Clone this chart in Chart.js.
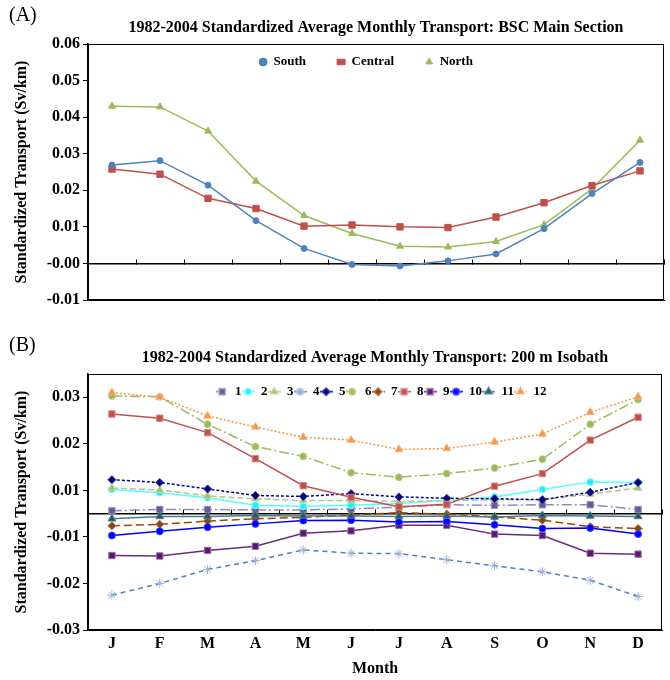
<!DOCTYPE html>
<html>
<head>
<meta charset="utf-8">
<script src="https://cdn.jsdelivr.net/npm/chart.js@4.4.1/dist/chart.umd.min.js"></script>
<style>
html, body { margin: 0; padding: 0; background: #fff; }
#page { position: relative; width: 670px; height: 680px; overflow: hidden; }
.panel { position: absolute; left: 0; width: 670px; }
#boxA { top: 0; height: 320px; }
#boxB { top: 320px; height: 360px; }
.tag { position: absolute; left: 9px; font: 20px "Liberation Serif", serif; color: #000; }
</style>
</head>
<body>
<div id="page">
  <div class="panel" id="boxA"><canvas id="chartA"></canvas></div>
  <div class="panel" id="boxB"><canvas id="chartB"></canvas></div>
  <div class="tag" style="top:3px">(A)</div>
  <div class="tag" style="top:333px">(B)</div>
</div>
<script>
// mois
const months = ['J', 'F', 'M', 'A', 'M', 'J', 'J', 'A', 'S', 'O', 'N', 'D'];

// Panneau A : section principale
const south   = [0.0269, 0.0281, 0.0214, 0.0117, 0.0041, -0.0003, -0.0007, 0.0007, 0.0026, 0.0095, 0.0191, 0.0276];
const central = [0.0258, 0.0244, 0.0178, 0.0150, 0.0102, 0.0105, 0.0100, 0.0098, 0.0127, 0.0166, 0.0213, 0.0253];
const north   = [0.0430, 0.0428, 0.0362, 0.0225, 0.0131, 0.0082, 0.0047, 0.0045, 0.0060, 0.0106, 0.0204, 0.0337];

// Panneau B : isobathe 200 m, segments 1..12
const seg1  = [0.0006, 0.0009, 0.0009, 0.0008, 0.0008, 0.0010, 0.0014, 0.0019, 0.0018, 0.0019, 0.0019, 0.0009];
const seg2  = [0.0052, 0.0045, 0.0034, 0.0018, 0.0016, 0.0018, 0.0022, 0.0029, 0.0036, 0.0052, 0.0068, 0.0067];
const seg3  = [0.0055, 0.0051, 0.0038, 0.0032, 0.0028, 0.0028, 0.0026, 0.0028, 0.0030, 0.0030, 0.0042, 0.0055];
const seg4  = [-0.0175, -0.0150, -0.0120, -0.0101, -0.0078, -0.0085, -0.0086, -0.0099, -0.0112, -0.0125, -0.0143, -0.0178];
const seg5  = [0.0073, 0.0067, 0.0053, 0.0039, 0.0037, 0.0043, 0.0036, 0.0033, 0.0032, 0.0030, 0.0046, 0.0067];
const seg6  = [0.0253, 0.0251, 0.0192, 0.0144, 0.0123, 0.0088, 0.0078, 0.0086, 0.0098, 0.0117, 0.0192, 0.0245];
const seg7  = [-0.0026, -0.0023, -0.0016, -0.0011, -0.0008, -0.0003, 0.0002, -0.0001, -0.0007, -0.0014, -0.0028, -0.0032];
const seg8  = [0.0214, 0.0205, 0.0174, 0.0118, 0.0060, 0.0035, 0.0015, 0.0020, 0.0059, 0.0086, 0.0158, 0.0207];
const seg9  = [-0.0090, -0.0091, -0.0079, -0.0070, -0.0042, -0.0037, -0.0025, -0.0025, -0.0044, -0.0047, -0.0085, -0.0087];
const seg10 = [-0.0047, -0.0038, -0.0029, -0.0022, -0.0015, -0.0014, -0.0018, -0.0017, -0.0024, -0.0032, -0.0031, -0.0044];
const seg11 = [-0.0011, -0.0006, -0.0006, -0.0004, -0.0005, -0.0005, -0.0006, -0.0005, -0.0007, -0.0004, -0.0005, -0.0006];
const seg12 = [0.0260, 0.0250, 0.0210, 0.0186, 0.0164, 0.0158, 0.0138, 0.0140, 0.0154, 0.0171, 0.0218, 0.0251];

// graduations de l'axe B (valeurs réelles et libellés arrondis comme dans Excel)
const yTicksB  = [-0.025, -0.015, -0.005, 0.005, 0.015, 0.025];
const yLabelsB = ['-0.03', '-0.02', '-0.01', '0.01', '0.02', '0.03'];

const serif = '"Liberation Serif", "Times New Roman", serif';
const boldFont = size => ({ family: serif, size: size, weight: 'bold' });

// petite icône de légende : trait + marqueur
function legendIcon(line, dash, style, fill, stroke, r) {
    const c = document.createElement('canvas');
    c.width = 13; c.height = 11;
    const g = c.getContext('2d');
    g.strokeStyle = line;
    g.lineWidth = 1.5;
    g.setLineDash(dash);
    g.beginPath(); g.moveTo(0, 5.5); g.lineTo(13, 5.5); g.stroke();
    g.setLineDash([]);
    g.fillStyle = fill;
    g.strokeStyle = stroke;
    Chart.helpers.drawPoint(g, { pointStyle: style, radius: r, borderWidth: 1, rotation: 0 }, 6.5, 5.5);
    return c;
}

// cadre du graphique + légende placée dans la zone de tracé
const framePlugin = {
    id: 'frame',
    beforeDraw(chart, args, opts) {
        const L = chart.legend;
        const a = chart.chartArea;
        if (L) {
            L.top = a.top + opts.legendDy;
            L.bottom = L.top + 90;
            L.left = a.left + opts.legendDx;
            L.right = a.right + opts.legendDx;
        }
    },
    beforeDatasetsDraw(chart) {
        const { ctx, chartArea: a } = chart;
        ctx.save();
        ctx.strokeStyle = '#000';
        ctx.lineWidth = 1;
        ctx.strokeRect(a.left + 0.5, a.top + 0.5, a.width - 1, a.height - 1);
        ctx.restore();
    }
};

function zeroAxis() {
    return {
        type: 'category',
        axis: 'x',
        labels: months,
        position: { y: 0 },
        offset: true,
        ticks: { display: false },
        grid: { display: true, drawOnChartArea: false, drawTicks: true, tickLength: -5, offset: true, color: '#000', lineWidth: 1 },
        border: { display: true, color: '#000', width: 1.5 }
    };
}

function yAxis(extra) {
    return Object.assign({
        grid: { display: true, drawOnChartArea: false, drawTicks: true, tickLength: 5, color: '#000', lineWidth: 1 },
        border: { display: true, color: '#000', width: 1.5 },
        title: { display: true, text: 'Standardized Transport (Sv/km)', color: '#000', font: boldFont(16), padding: { top: 12, bottom: 0 } },
        afterFit: s => { s.width = 88; }
    }, extra);
}

function series(label, data, line, dash, style, fill, stroke, r) {
    return {
        label: label, data: data, xAxisID: 'x', yAxisID: 'y',
        borderColor: line, borderWidth: 1.5, borderDash: dash,
        pointStyle: style, pointRadius: r, pointBackgroundColor: fill,
        pointBorderColor: stroke, pointBorderWidth: 1, tension: 0, fill: false
    };
}

// ---- Graphique A ----
new Chart(document.getElementById('chartA'), {
    type: 'line',
    data: {
        labels: months,
        datasets: [
            series('South', south, '#4F81BD', [], 'circle', '#4F81BD', '#4F81BD', 3),
            series('Central', central, '#C0504D', [], 'rect', '#C0504D', '#C0504D', 4.5),
            series('North', north, '#9BBB59', [], 'triangle', '#9BBB59', '#9BBB59', 4)
        ]
    },
    options: {
        responsive: true,
        maintainAspectRatio: false,
        animation: false,
        devicePixelRatio: 1,
        layout: { padding: { left: 0, right: 6, top: 0, bottom: 20 } },
        scales: {
            x: {
                type: 'category', offset: true,
                ticks: { display: false },
                grid: { display: false, drawTicks: false },
                border: { display: true, color: '#000', width: 1 },
                afterFit: s => { s.height = 0; }
            },
            x0: zeroAxis(),
            y: yAxis({
                min: -0.01, max: 0.06,
                ticks: { stepSize: 0.01, color: '#000', font: boldFont(16), padding: 3, callback: v => v.toFixed(2) }
            })
        },
        plugins: {
            title: {
                display: true, fullSize: false,
                text: '1982-2004 Standardized Average Monthly Transport: BSC Main Section',
                color: '#000', font: boldFont(16), padding: { top: 18.4, bottom: 5.4 }
            },
            legend: {
                display: true, position: 'top', fullSize: false, maxHeight: 1,
                labels: { usePointStyle: true, pointStyleWidth: 8, boxHeight: 5.5, padding: 31, color: '#000', font: boldFont(13) }
            },
            tooltip: { enabled: false },
            frame: { legendDy: -19.5, legendDx: -10 }
        }
    },
    plugins: [framePlugin]
});

// ---- Graphique B ----
const styleB = [
    ['1',  seg1,  '#8E8AB8', [10, 3, 2, 3], 'rect',     '#675A94', '#9C93C0', 4.5],
    ['2',  seg2,  '#55FFFF', [],            'circle',   '#22EEFF', '#88FFFF', 3.5],
    ['3',  seg3,  '#B0C98A', [6, 3],        'triangle', '#A2BF6A', '#C4D8A0', 4.5],
    ['4',  seg4,  '#4F81BD', [5, 4],        'star',     '#95B3D7', '#95B3D7', 4.5],
    ['5',  seg5,  '#000099', [3, 2],        'rectRot',  '#000080', '#3030A0', 4],
    ['6',  seg6,  '#9BBB59', [10, 3, 2, 3], 'circle',   '#9BBB59', '#B8D08A', 3.5],
    ['7',  seg7,  '#984807', [8, 4],        'rectRot',  '#8B4513', '#A86A3A', 4],
    ['8',  seg8,  '#C0504D', [],            'rect',     '#C0504D', '#D88A88', 4.5],
    ['9',  seg9,  '#6A2C7A', [],            'rect',     '#5C1870', '#9A70A8', 4.5],
    ['10', seg10, '#0000FF', [],            'circle',   '#0000FF', '#4040FF', 3.5],
    ['11', seg11, '#4B7D8C', [],            'triangle', '#215968', '#4B7D8C', 4.5],
    ['12', seg12, '#F79646', [2, 2],        'triangle', '#F79646', '#F9B27A', 4.5]
];
const datasetsB = styleB.map((s, i) => Object.assign(series(s[0], s[1], s[2], s[3], s[4], s[5], s[6], s[7]), { order: 12 - i }));
const iconsB = styleB.map(s => legendIcon(s[2], s[3], s[4], s[5], s[6], s[7] - 0.3));

new Chart(document.getElementById('chartB'), {
    type: 'line',
    data: { labels: months, datasets: datasetsB },
    options: {
        responsive: true,
        maintainAspectRatio: false,
        animation: false,
        devicePixelRatio: 1,
        layout: { padding: { left: 0, right: 8, top: 0, bottom: 0 } },
        scales: {
            x: {
                type: 'category', offset: true,
                ticks: { color: '#000', font: boldFont(16), padding: 4, maxRotation: 0, autoSkip: false },
                grid: { display: false, drawTicks: false },
                border: { display: true, color: '#000', width: 1 },
                title: { display: true, text: 'Month', color: '#000', font: boldFont(16), padding: { top: 0, bottom: 1.5 } },
                afterFit: s => { s.height = 50; }
            },
            x0: zeroAxis(),
            y: yAxis({
                min: -0.025, max: 0.030,
                afterBuildTicks: s => { s.ticks = yTicksB.map(v => ({ value: v })); },
                ticks: { color: '#000', font: boldFont(16), padding: 3, callback: (v, i) => yLabelsB[i] }
            })
        },
        plugins: {
            title: {
                display: true, fullSize: false,
                text: '1982-2004 Standardized Average Monthly Transport: 200 m Isobath',
                color: '#000', font: boldFont(16), padding: { top: 28.1, bottom: 5.7 }
            },
            legend: {
                display: true, position: 'top', fullSize: false, maxHeight: 1,
                labels: {
                    usePointStyle: true, pointStyleWidth: 13, padding: 0, color: '#000', font: boldFont(13),
                    sort: (a, b) => a.datasetIndex - b.datasetIndex,
                    generateLabels: chart => Chart.defaults.plugins.legend.labels.generateLabels(chart)
                        .map(it => Object.assign(it, { pointStyle: iconsB[it.datasetIndex] }))
                }
            },
            tooltip: { enabled: false },
            frame: { legendDy: 11.2, legendDx: 6 }
        }
    },
    plugins: [framePlugin]
});
</script>
</body>
</html>
